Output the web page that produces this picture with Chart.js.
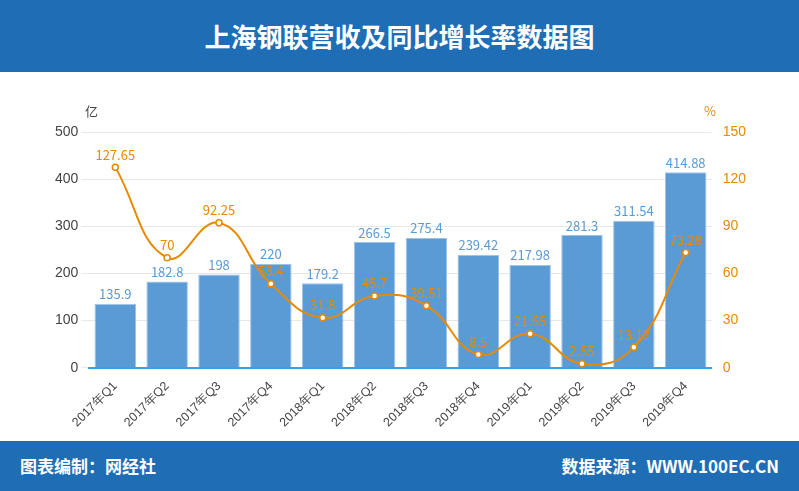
<!DOCTYPE html>
<html><head><meta charset="utf-8">
<script src="https://cdn.jsdelivr.net/npm/chart.js@4/dist/chart.umd.min.js"></script>
<style>
body{margin:0;width:799px;height:491px;overflow:hidden;font-family:"Noto Sans CJK SC",sans-serif;background:#fff}
#hd{position:absolute;left:0;top:0;width:799px;height:72px;background:#1f6db5;color:#fff;font-size:26px;font-weight:bold;text-align:center;line-height:72px}
#ft{position:absolute;left:0;top:441px;width:799px;height:50px;background:#1f6db5;color:#fff;font-size:17px;font-weight:bold;line-height:50px}
#ft .l{position:absolute;left:20px}#ft .r{position:absolute;right:20px}
#wrap{position:absolute;left:0;top:72px;width:799px;height:369px}
</style></head><body>
<div id="hd">上海钢联营收及同比增长率数据图</div>
<div id="wrap"><canvas id="c"></canvas></div>
<div id="ft"><span class="l">图表编制：网经社</span><span class="r">数据来源：WWW.100EC.CN</span></div>
<script>
const categories=["2017年Q1","2017年Q2","2017年Q3","2017年Q4","2018年Q1","2018年Q2","2018年Q3","2018年Q4","2019年Q1","2019年Q2","2019年Q3","2019年Q4"];
const revenue=[135.9,182.8,198,220,179.2,266.5,275.4,239.42,217.98,281.3,311.54,414.88];
const growth=[127.65,70,92.25,53.4,31.8,45.7,39.51,8.5,21.65,2.55,13.12,73.28];
const leftTicks=[0,100,200,300,400,500];
const rightTicks=[0,30,60,90,120,150];
const labels={id:'lbl',afterDatasetsDraw(ch){const c=ch.ctx;c.save();c.font='13px "Noto Sans CJK SC", sans-serif';c.textAlign='center';c.textBaseline='bottom';
ch.data.datasets.forEach((ds,i)=>{const m=ch.getDatasetMeta(i);c.fillStyle=i==0?'#5b9bd5':'#e68a00';m.data.forEach((e,j)=>{c.fillText(ds.data[j],e.x,e.y-(i==0?3:6));});});
c.fillStyle='#444';c.textAlign='left';c.fillText('亿',85,ch.chartArea.top-14);c.fillStyle='#e68a00';c.fillText('%',704,ch.chartArea.top-14);c.restore();}};
new Chart(document.getElementById('c'),{data:{labels:categories,datasets:[
{type:'bar',data:revenue,backgroundColor:'#5b9bd5',borderColor:'#9dc3e6',borderWidth:1,yAxisID:'y',categoryPercentage:0.8,barPercentage:1,order:2},
{type:'line',data:growth,borderColor:'#e68a00',borderWidth:2,tension:0.45,pointRadius:3,pointBackgroundColor:'#fff',pointBorderColor:'#e68a00',pointBorderWidth:1.5,yAxisID:'y1',order:1}]},
options:{responsive:true,maintainAspectRatio:false,animation:false,layout:{padding:{top:60,left:52,right:50,bottom:8}},plugins:{legend:{display:false},tooltip:{enabled:false}},
scales:{x:{grid:{display:false},border:{color:'#29a9e0',width:2},ticks:{color:'#444',font:{size:12.5},maxRotation:45,minRotation:45}},
y:{min:0,max:500,afterBuildTicks:a=>{a.ticks=leftTicks.map(v=>({value:v}))},grid:{color:'#e8e8e8'},border:{display:false},ticks:{color:'#444',font:{size:14}}},
y1:{position:'right',min:0,max:150,afterBuildTicks:a=>{a.ticks=rightTicks.map(v=>({value:v}))},grid:{display:false},border:{display:false},ticks:{color:'#e68a00',font:{size:14}}}}},
plugins:[labels]});
</script></body></html>
